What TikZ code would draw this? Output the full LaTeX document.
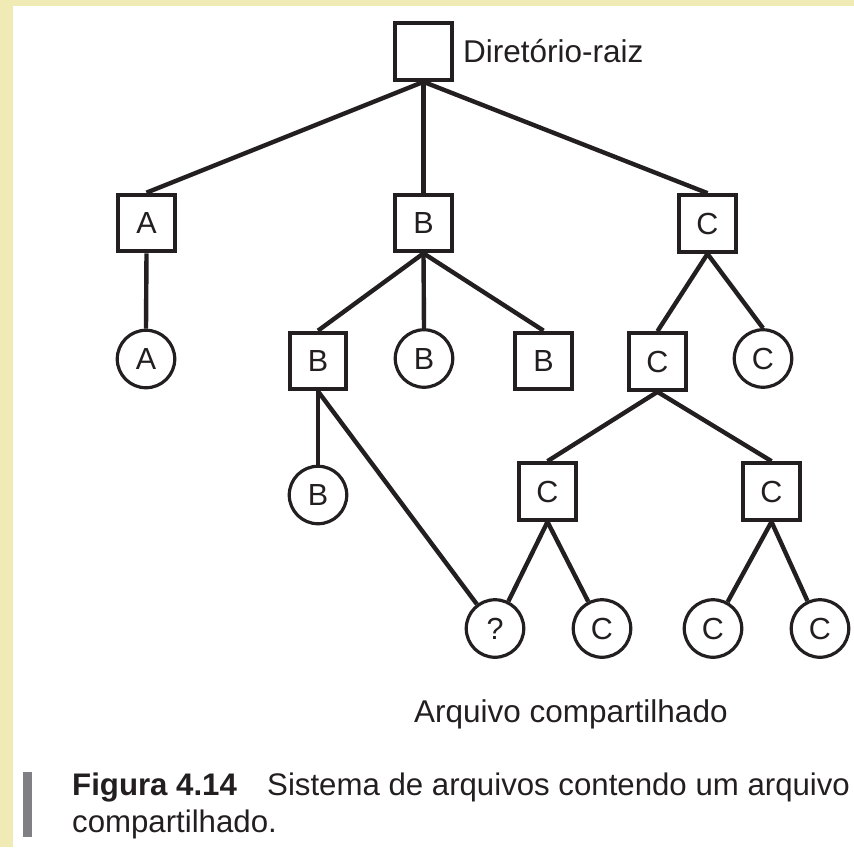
\documentclass[tikz,border=0pt]{standalone}
\usepackage{fontspec}
\setmainfont{Liberation Sans}
\definecolor{ink}{RGB}{35,31,32}
\definecolor{pagey}{RGB}{240,234,180}
\definecolor{bargray}{RGB}{128,128,132}
\begin{document}
\begin{tikzpicture}[x=1pt,y=-1pt,
  every node/.style={text=ink},
  dirbox/.style={draw=ink,line width=4.2pt,minimum size=56.5pt,inner sep=0pt,font=\fontsize{30.5}{36}\selectfont},
  filecirc/.style={circle,draw=ink,line width=3.2pt,minimum size=57.5pt,inner sep=0pt,font=\fontsize{30.5}{36}\selectfont},
  edge/.style={draw=ink,line width=4.4pt},
  lbl/.style={inner sep=0pt,font=\fontsize{31.5}{38}\selectfont},
  caplbl/.style={inner sep=0pt,font=\fontsize{31.2}{38}\selectfont}
]
\fill[pagey] (0,0) rectangle (854,847);
\fill[white] (13,6) rectangle (854,847);
\useasboundingbox (0,0) rectangle (854,847);

% directories
\node[dirbox] (root) at (423.5,51.5) {};
\node[dirbox] (A1) at (146.5,223) {A};
\node[dirbox] (B1) at (423.5,223) {B};
\node[dirbox] (C1) at (707.5,223.5) {C};
\node[dirbox] (B2) at (318,361) {B};
\node[dirbox] (B3) at (543.5,361) {B};
\node[dirbox] (C2) at (657.5,361.5) {C};
\node[dirbox] (C3) at (547.5,491.5) {C};
\node[dirbox] (C4) at (771.5,491.5) {C};

% files
\node[filecirc] (fA) at (146,359) {A};
\node[filecirc] (fB1) at (424,358.5) {B};
\node[filecirc] (fC1) at (763,358.5) {C};
\node[filecirc] (fB2) at (318,495) {B};
\node[filecirc] (fq) at (495,628.5) {?};
\node[filecirc] (fC2) at (602,628.5) {C};
\node[filecirc] (fC3) at (713,628.5) {C};
\node[filecirc] (fC4) at (820,628.5) {C};

% edges
\draw[edge] (root.south) -- (A1.north);
\draw[edge] (root.south) -- (B1.north);
\draw[edge] (root.south) -- (C1.north);
\draw[edge] (A1.south) -- (fA.north);
\draw[edge] (B1.south) -- (B2.north);
\draw[edge] (B1.south) -- (fB1.north);
\draw[edge] (B1.south) -- (B3.north);
\draw[edge] (C1.south) -- (C2.north);
\draw[edge] (C1.south) -- (fC1.north);
\draw[edge] (B2.south) -- (fB2.north);
\draw[edge] (B2.south) -- (fq);
\draw[edge] (C2.south) -- (C3.north);
\draw[edge] (C2.south) -- (C4.north);
\draw[edge] (C3.south) -- (fq);
\draw[edge] (C3.south) -- (fC2);
\draw[edge] (C4.south) -- (fC3);
\draw[edge] (C4.south) -- (fC4);

% labels
\node[lbl,anchor=base west] (rootlbl) at (463,62) {Diretório-raiz};
\node[lbl,anchor=base west] (shared) at (414,722) {Arquivo compartilhado};

% caption
\fill[bargray] (23,772) rectangle (32,837);
\node[caplbl,anchor=base west] (fig) at (72,795) {\bfseries Figura 4.14};
\node[caplbl,anchor=base west] (cap1) at (267,795) {Sistema de arquivos contendo um arquivo};
\node[caplbl,anchor=base west] (cap2) at (72,832) {compartilhado.};
\end{tikzpicture}
\end{document}
